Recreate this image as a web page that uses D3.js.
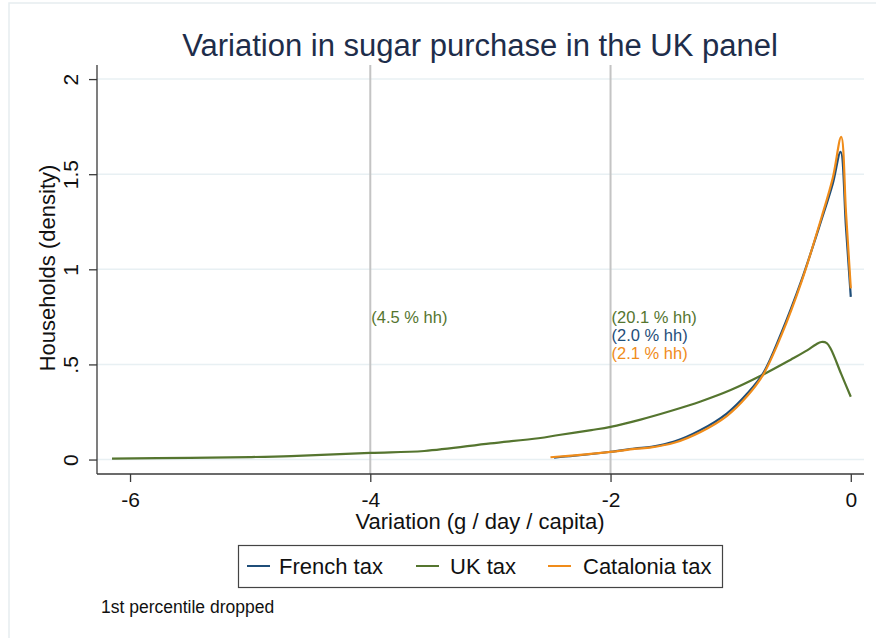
<!DOCTYPE html>
<html>
<head>
<meta charset="utf-8">
<script src="https://cdn.jsdelivr.net/npm/d3@7"></script>
<style>
  html, body { margin: 0; padding: 0; background: #ffffff; }
  svg { display: block; }
  text { font-family: "Liberation Sans", Arial, Helvetica, sans-serif; }
</style>
</head>
<body>
<svg id="chart" width="876" height="638"></svg>
<script>
// Kernel density estimates of the change in sugar purchase, by tax scenario
const frenchX = [-2.47, -2.3, -2.0, -1.8, -1.66, -1.47, -1.25, -1.03, -0.86, -0.73, -0.58, -0.41, -0.245, -0.15, -0.085, -0.04, 0.0];
const frenchY = [0.01, 0.02, 0.041, 0.058, 0.067, 0.094, 0.155, 0.243, 0.348, 0.453, 0.663, 0.943, 1.258, 1.45, 1.617, 1.22, 0.855];

const ukX = [-6.15, -5.5, -5.0, -4.66, -4.0, -3.55, -3.0, -2.6, -2.43, -2.16, -2.0, -1.75, -1.5, -1.25, -1.0, -0.75, -0.5, -0.36, -0.29, -0.245, -0.2, -0.165, -0.08, 0.0];
const ukY = [0.005, 0.009, 0.013, 0.018, 0.035, 0.045, 0.085, 0.112, 0.129, 0.155, 0.172, 0.21, 0.255, 0.305, 0.365, 0.44, 0.525, 0.575, 0.605, 0.618, 0.612, 0.58, 0.45, 0.33];

const cataloniaX = [-2.5, -2.3, -2.0, -1.8, -1.66, -1.47, -1.25, -1.03, -0.86, -0.73, -0.58, -0.41, -0.245, -0.15, -0.08, -0.04, 0.0];
const cataloniaY = [0.012, 0.022, 0.04, 0.056, 0.064, 0.088, 0.145, 0.23, 0.335, 0.445, 0.65, 0.935, 1.27, 1.48, 1.696, 1.30, 0.90];

const seriesNames = ["French tax", "UK tax", "Catalonia tax"];
const seriesColors = ["#1f4e79", "#55752f", "#f08c1a"];

const xTicks = [-6, -4, -2, 0];
const yTicks = [0, 0.5, 1, 1.5, 2];
const yTickLabels = ["0", ".5", "1", "1.5", "2"];

// Reference lines and share of households beyond them
const refLines = [-4, -2];
const refNotes = [
  { x: -4, lines: [{ text: "(4.5 % hh)", series: 1 }] },
  { x: -2, lines: [{ text: "(20.1 % hh)", series: 1 }, { text: "(2.0 % hh)", series: 0 }, { text: "(2.1 % hh)", series: 2 }] }
];

const svg = d3.select("#chart");

// faint outer frame of the graph region
svg.append("rect").attr("x", 9).attr("y", 3).attr("width", 900).attr("height", 700)
  .attr("fill", "#ffffff").attr("stroke", "#e6edf0").attr("stroke-width", 1.5);

const plot = { left: 97, right: 864, top: 65, bottom: 474 };

const x = d3.scaleLinear().domain([-6.275, 0.11]).range([plot.left, plot.right]);
const y = d3.scaleLinear().domain([-0.076, 2.074]).range([plot.bottom, plot.top]);

// horizontal grid
svg.append("g").selectAll("line").data(yTicks).join("line")
  .attr("x1", plot.left).attr("x2", plot.right)
  .attr("y1", d => y(d)).attr("y2", d => y(d))
  .attr("stroke", "#e8f0f3").attr("stroke-width", 1.5);

// vertical reference lines
svg.append("g").selectAll("line").data(refLines).join("line")
  .attr("x1", d => x(d)).attr("x2", d => x(d))
  .attr("y1", plot.top).attr("y2", plot.bottom)
  .attr("stroke", "#c4c4c4").attr("stroke-width", 2);

// curves
const series = [
  d3.zip(frenchX, frenchY),
  d3.zip(ukX, ukY),
  d3.zip(cataloniaX, cataloniaY)
];
const line = d3.line().x(d => x(d[0])).y(d => y(d[1])).curve(d3.curveCatmullRom.alpha(0.5));
const drawOrder = [1, 0, 2];
svg.append("g").selectAll("path").data(drawOrder).join("path")
  .attr("d", i => line(series[i]))
  .attr("fill", "none")
  .attr("stroke", i => seriesColors[i])
  .attr("stroke-width", 2.2)
  .attr("stroke-linejoin", "round");

// axes
const axisColor = "#3a3a3a";
const yAxis = svg.append("g").attr("transform", `translate(${plot.left},0)`)
  .call(d3.axisLeft(y).tickValues(yTicks).tickSize(8).tickFormat((d, i) => yTickLabels[i]));
yAxis.select(".domain").attr("d", `M0,${plot.top}V${plot.bottom}`).attr("stroke", axisColor).attr("stroke-width", 1.3);
yAxis.selectAll(".tick line").attr("stroke", axisColor).attr("stroke-width", 1.3);
yAxis.selectAll(".tick text")
  .attr("x", null).attr("dy", null)
  .attr("transform", "translate(-27,0) rotate(-90)")
  .attr("text-anchor", "middle")
  .attr("dy", "0.36em")
  .attr("fill", "#111")
  .style("font-size", "21px")
  .style("font-family", "'Liberation Sans', Arial, sans-serif");

const xAxis = svg.append("g").attr("transform", `translate(0,${plot.bottom})`)
  .call(d3.axisBottom(x).tickValues(xTicks).tickSize(8).tickFormat(d => d === 0 ? "0" : String(d)));
xAxis.select(".domain").attr("d", `M${plot.left},0H${plot.right}`).attr("stroke", axisColor).attr("stroke-width", 1.3);
xAxis.selectAll(".tick line").attr("stroke", axisColor).attr("stroke-width", 1.3);
xAxis.selectAll(".tick text")
  .attr("y", 33).attr("dy", null)
  .attr("fill", "#111")
  .style("font-size", "21px")
  .style("font-family", "'Liberation Sans', Arial, sans-serif");

// notes at reference lines
refNotes.forEach(n => {
  n.lines.forEach((l, k) => {
    svg.append("text")
      .attr("x", x(n.x) + 1)
      .attr("y", 323 + k * 18)
      .attr("fill", seriesColors[l.series])
      .style("font-size", "16.5px")
      .text(l.text);
  });
});

// titles
svg.append("text").attr("x", 480).attr("y", 56).attr("text-anchor", "middle")
  .attr("fill", "#1e2d4a").style("font-size", "31px")
  .text("Variation in sugar purchase in the UK panel");

svg.append("text").attr("x", 480).attr("y", 529).attr("text-anchor", "middle")
  .attr("fill", "#111").style("font-size", "22px")
  .text("Variation (g / day / capita)");

svg.append("text").attr("transform", "translate(55,268) rotate(-90)").attr("text-anchor", "middle")
  .attr("fill", "#111").style("font-size", "22px")
  .text("Households (density)");

// legend
const legend = svg.append("g");
legend.append("rect").attr("x", 238.5).attr("y", 545.5).attr("width", 484).attr("height", 42)
  .attr("fill", "#fff").attr("stroke", "#444").attr("stroke-width", 1.2);
const legendPos = [{ lx: 247, tx: 279 }, { lx: 416, tx: 450 }, { lx: 548, tx: 583 }];
seriesNames.forEach((name, i) => {
  legend.append("line")
    .attr("x1", legendPos[i].lx).attr("x2", legendPos[i].lx + 23)
    .attr("y1", 566).attr("y2", 566)
    .attr("stroke", seriesColors[i]).attr("stroke-width", 2);
  legend.append("text").attr("x", legendPos[i].tx).attr("y", 574)
    .attr("fill", "#111").style("font-size", "22px").text(name);
});

// footnote
svg.append("text").attr("x", 101).attr("y", 613)
  .attr("fill", "#111").style("font-size", "17.5px")
  .text("1st percentile dropped");
</script>
</body>
</html>
